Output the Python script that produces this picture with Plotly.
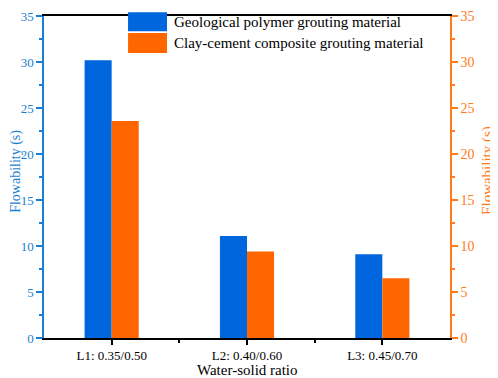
import plotly.graph_objects as go

categories = ["L1: 0.35/0.50", "L2: 0.40/0.60", "L3: 0.45/0.70"]
geo_polymer = [30.2, 11.1, 9.1]
clay_cement = [23.6, 9.4, 6.5]
series_names = ["Geological polymer grouting material", "Clay-cement composite grouting material"]
colors = ["#0066dd", "#ff6600"]
left_color = "#1a7fd0"
right_color = "#ff7a1a"
y_ticks = [0, 5, 10, 15, 20, 25, 30, 35]
x_title = "Water-solid ratio"
y_title = "Flowability (s)"

xpos = list(range(len(categories)))
FONT = "Liberation Serif"

fig = go.Figure()
fig.add_trace(go.Bar(x=xpos, y=geo_polymer, name=series_names[0], marker_color=colors[0],
                     marker_line_width=0, showlegend=False))
fig.add_trace(go.Bar(x=xpos, y=clay_cement, name=series_names[1], marker_color=colors[1],
                     marker_line_width=0, showlegend=False))
# invisible trace to activate right axis
fig.add_trace(go.Scatter(x=[xpos[0]], y=[0], yaxis="y2", mode="markers",
                         marker=dict(opacity=0), showlegend=False, hoverinfo="skip"))

fig.update_layout(
    width=498, height=378,
    margin=dict(l=36, r=56, t=8, b=48),
    plot_bgcolor="white", paper_bgcolor="white",
    barmode="group", bargap=0.6, bargroupgap=0,
    font=dict(family=FONT, size=13, color="black"),
    xaxis=dict(range=[-0.5, len(categories) - 0.5], tickmode="array", tickvals=xpos,
               ticktext=categories, showline=True, linecolor="black", linewidth=1.5,
               mirror=True, ticks="outside", ticklen=5, tickwidth=1.5, tickcolor="black",
               minor=dict(tickmode="array", tickvals=[0.5, 1.5], ticks="outside", ticklen=3,
                          tickwidth=1.5, tickcolor="black"),
               showgrid=False, zeroline=False, tickfont=dict(size=13), automargin=False),
    yaxis=dict(range=[0, 35], tickvals=y_ticks, showline=True, linecolor=left_color, linewidth=1.5,
               ticks="outside", ticklen=6, tickwidth=1.5, tickcolor=left_color,
               minor=dict(dtick=2.5, ticks="outside", ticklen=3, tickwidth=1.5, tickcolor=left_color),
               showgrid=False, zeroline=False, tickfont=dict(color=left_color, size=13),
               automargin=False),
    yaxis2=dict(range=[0, 35], tickvals=y_ticks, overlaying="y", side="right", showline=True,
                linecolor=right_color, linewidth=1.5, ticks="outside", ticklen=6, tickwidth=1.5,
                tickcolor=right_color,
                minor=dict(dtick=2.5, ticks="outside", ticklen=3, tickwidth=1.5, tickcolor=right_color),
                showgrid=False, zeroline=False, tickfont=dict(color=right_color, size=14),
                automargin=False),
)

# axis titles as annotations for precise placement
fig.add_annotation(xref="paper", yref="paper", x=-0.069, y=0.519, text=y_title, showarrow=False,
                   textangle=-90, xanchor="center", yanchor="middle", borderpad=0,
                   font=dict(family=FONT, size=14, color=left_color))
fig.add_annotation(xref="paper", yref="paper", x=1.0936, y=0.519, text=y_title, showarrow=False,
                   textangle=-90, xanchor="center", yanchor="middle",
                   font=dict(family=FONT, size=15, color=right_color))
fig.add_annotation(xref="paper", yref="paper", x=0.5, y=-0.0994, text=x_title, showarrow=False,
                   xanchor="center", yanchor="middle", font=dict(family=FONT, size=15, color="black"))

# manual legend with large colour boxes
legend_rows = [(1.012, 0.953), (0.947, 0.885)]
for (y1, y0), name, c in zip(legend_rows, series_names, colors):
    fig.add_shape(type="rect", xref="paper", yref="paper", x0=0.207, x1=0.303, y0=y0, y1=y1,
                  fillcolor=c, line_width=0)
    fig.add_annotation(xref="paper", yref="paper", x=0.315, y=(y0 + y1) / 2, text=name,
                       showarrow=False, xanchor="left", yanchor="middle",
                       font=dict(family=FONT, size=15, color="black"))

fig.write_html("out.html")
